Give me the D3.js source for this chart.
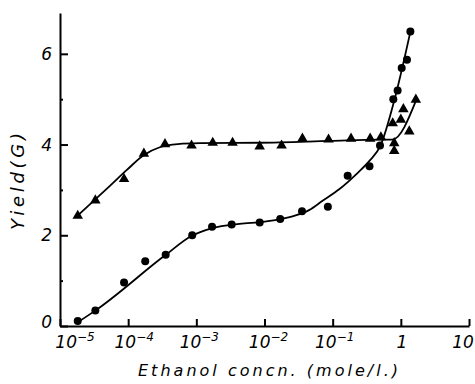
<!DOCTYPE html>
<html>
<head>
<meta charset="utf-8">
<script src="https://cdn.jsdelivr.net/npm/d3@7"></script>
<style>
  body { margin: 0; background: #fff; }
  svg { display: block; }
  text { font-family: "DejaVu Sans", sans-serif; font-style: italic; fill: #000; }
</style>
</head>
<body>
<div id="chart"></div>
<script>
// ethanol concentration (mole/l) and yield (G)
const circleConc  = [1.82e-5, 3.3e-5, 8.7e-5, 1.78e-4, 3.55e-4, 8.7e-4, 1.7e-3, 3.3e-3, 8.5e-3, 1.7e-2,
                     3.55e-2, 8.5e-2, 0.166, 0.347, 0.495, 0.776, 0.897, 1.03, 1.23, 1.38];
const circleYield = [0.11, 0.34, 0.96, 1.43, 1.57, 2.00, 2.19, 2.24, 2.28, 2.36,
                     2.53, 2.63, 3.31, 3.52, 3.98, 5.00, 5.19, 5.69, 5.87, 6.49];

const triConc  = [1.82e-5, 3.3e-5, 8.7e-5, 1.7e-4, 3.47e-4, 8.5e-4, 1.74e-3, 3.4e-3, 8.5e-3, 1.78e-2,
                  3.6e-2, 8.7e-2, 0.186, 0.355, 0.51, 0.80, 0.80, 0.76, 1.0, 1.09, 1.33, 1.66];
const triYield = [2.43, 2.77, 3.24, 3.80, 4.01, 3.98, 4.04, 4.04, 3.96, 3.98,
                  4.13, 4.11, 4.13, 4.13, 4.16, 4.03, 3.86, 4.47, 4.55, 4.78, 4.29, 4.99];

// hand drawn fitted curves
const circleFitConc  = [1.77e-5, 3.37e-5, 3.56e-4, 8.57e-4, 1.74e-3, 4.32e-3, 1.0e-2, 2.33e-2,
                        4.57e-2, 7.1e-2, 0.126, 0.223, 0.346, 0.501, 0.804, 1.377];
const circleFitYield = [0.07, 0.35, 1.57, 1.99, 2.16, 2.25, 2.30, 2.40,
                        2.56, 2.76, 3.02, 3.35, 3.64, 3.97, 4.98, 6.48];

const triFitConc  = [1.77e-5, 5.4e-5, 9.57e-5, 1.70e-4, 2.91e-4, 5.35e-4, 1.12e-3, 8.47e-3, 0.0897, 0.484, 0.751, 1.69];
const triFitYield = [2.42, 3.09, 3.44, 3.77, 3.94, 4.01, 4.03, 4.04, 4.08, 4.11, 4.11, 4.99];

const xTickExp = [-5, -4, -3, -2, -1, 0, 1];
const yTicks = [0, 2, 4, 6];
const yMinor = [1, 3, 5];

const zip = (cs, vs) => cs.map((c, i) => ({c: c, v: vs[i]}));

let width = 475, height = 384;

let svg = d3.select("#chart").append("svg")
    .attr("width", width)
    .attr("height", height);

let x = d3.scaleLog()
    .domain([1e-5, 10])
    .range([60, 469]);

let y = d3.scaleLinear()
    .domain([0, 6.9])
    .range([326, 13]);

// axes, ticks point into the plot
svg.append("g")
    .attr("transform", "translate(0,326)")
    .call(d3.axisBottom(x).tickValues(xTickExp.map(e => Math.pow(10, e))).tickSize(-7).tickSizeOuter(0).tickFormat(""));

svg.append("g")
    .attr("transform", "translate(60,0)")
    .call(d3.axisLeft(y).tickValues(yTicks).tickSize(-8).tickSizeOuter(0).tickFormat(""));

svg.append("g")
    .attr("transform", "translate(60,0)")
    .call(d3.axisLeft(y).tickValues(yMinor).tickSize(-3).tickSizeOuter(0).tickFormat(""))
    .select(".domain").remove();

svg.selectAll(".domain, .tick line")
    .attr("stroke", "#000")
    .attr("stroke-width", 2);

// x tick labels with superscript exponents (hand lettered, slightly off-centre)
const labelShift = {"-5": 15, "-4": 6, "-3": 3, "-2": 4, "-1": 2, "0": 1, "1": -6};
xTickExp.forEach(e => {
    let t = svg.append("text")
        .attr("x", x(Math.pow(10, e)) + labelShift[e])
        .attr("y", 348)
        .attr("text-anchor", "middle")
        .attr("font-size", 17);
    if (e === 0) {
        t.text("1");
    } else if (e === 1) {
        t.text("10");
    } else {
        t.append("tspan").text("10");
        t.append("tspan").attr("dy", -7).attr("font-size", 12).text("\u2212" + (-e));
    }
});

// y tick labels
yTicks.forEach(v => {
    svg.append("text")
        .attr("x", 52)
        .attr("y", y(v) - (v === 0 ? 4 : 0))
        .attr("dy", "0.36em")
        .attr("text-anchor", "end")
        .attr("font-size", 17)
        .text(v);
});

// axis titles
svg.append("text")
    .attr("x", 138)
    .attr("y", 376)
    .attr("font-size", 16)
    .attr("textLength", 260)
    .attr("lengthAdjust", "spacing")
    .text("Ethanol concn. (mole/l.)");

svg.append("text")
    .attr("transform", "translate(24,230) rotate(-90)")
    .attr("font-size", 18)
    .attr("textLength", 97)
    .attr("lengthAdjust", "spacing")
    .text("Yield(G)");

// fitted curves
let line = d3.line()
    .x(d => x(d.c))
    .y(d => y(d.v))
    .curve(d3.curveMonotoneX);

svg.append("path")
    .datum(zip(circleFitConc, circleFitYield))
    .attr("d", line)
    .attr("fill", "none")
    .attr("stroke", "#000")
    .attr("stroke-width", 1.8);

svg.append("path")
    .datum(zip(triFitConc, triFitYield))
    .attr("d", line)
    .attr("fill", "none")
    .attr("stroke", "#000")
    .attr("stroke-width", 1.8);

// markers
svg.selectAll(".dot")
    .data(zip(circleConc, circleYield))
    .enter().append("circle")
    .attr("class", "dot")
    .attr("cx", d => x(d.c))
    .attr("cy", d => y(d.v))
    .attr("r", 4)
    .attr("fill", "#000");

svg.selectAll(".tri")
    .data(zip(triConc, triYield))
    .enter().append("path")
    .attr("class", "tri")
    .attr("d", d3.symbol(d3.symbolTriangle).size(48))
    .attr("transform", d => "translate(" + x(d.c) + "," + y(d.v) + ")")
    .attr("fill", "#000");
</script>
</body>
</html>
